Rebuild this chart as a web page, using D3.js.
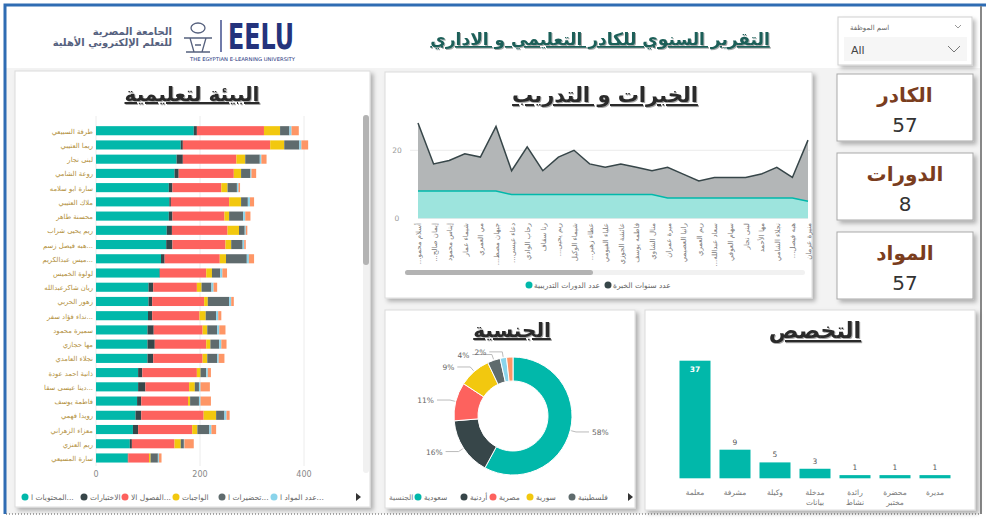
<!DOCTYPE html>
<html>
<head>
<meta charset="utf-8">
<script src="https://cdn.jsdelivr.net/npm/d3@7"></script>
<style>
  body { margin: 0; background: #ffffff; }
  svg { display: block; font-family: "DejaVu Sans", "Noto Sans", sans-serif; }
</style>
</head>
<body>
<div id="dash"></div>
<script>
// ---------------- data ----------------
// left panel: stacked bars per staff member
var staffNames = ["طرفة السبيعي", "ريما العتيبي", "لبنى نجار", "روعة الشامي", "سارة ابو سلامه", "ملاك العتيبي",
  "محسنة طاهر", "ريم يحيى شراب", "هبه فيصل زسم...", "ميس عبدالكريم...", "لولوة الخميس", "ريان شاكرعبدالله",
  "زهور الحربي", "نداء فؤاد سفر...", "سميرة محمود", "مها حجازي", "نجلاء العامدي", "ذانية احمد عودة",
  "دينا عيسى سقا...", "فاطمة يوسف", "رويدا فهمي", "معزاء الزهراني", "ريم العنزي", "سارة المسيعي"];
var contentVals  = [188, 163, 155, 151, 140, 141, 140, 136, 135, 125, 122, 101, 101, 100, 99, 99, 99, 81, 81, 79, 76, 71, 65, 61];
var examVals     = [6, 4, 12, 8, 7, 3, 7, 10, 12, 7, 1, 9, 7, 8, 12, 14, 11, 8, 14, 8, 11, 10, 4, 1];
var classVals    = [129, 168, 103, 106, 94, 112, 100, 107, 102, 106, 89, 84, 100, 91, 94, 99, 95, 105, 84, 90, 120, 104, 82, 40];
var homeworkVals = [31, 27, 17, 14, 12, 23, 9, 22, 11, 12, 11, 9, 7, 12, 9, 8, 9, 7, 11, 4, 24, 10, 12, 3];
var prepVals     = [18, 29, 28, 18, 18, 13, 27, 11, 22, 40, 16, 19, 41, 20, 19, 17, 19, 11, 8, 17, 16, 23, 6, 14];
var subjectVals  = [4, 4, 3, 2, 3, 4, 4, 2, 3, 4, 4, 4, 4, 4, 4, 4, 3, 3, 3, 3, 4, 4, 1, 2];
var otherVals    = [14, 13, 10, 9, 3, 8, 10, 3, 3, 10, 9, 7, 5, 6, 12, 10, 11, 6, 18, 20, 6, 9, 18, 5];
var seriesLabels = ["المحتويات ا...", "الاختبارات", "الفصول الا...", "الواجبات", "تحضيرات ا...", "عدد المواد ا..."];
var barTicks = [0, 200, 400];

// line panel: experience and training
var traineeNames = ["...أسلام محمو", "...إيمان صالح", "إيناس محمود", "شيماء عمار", "مي العمري", "...جيهان مصط",
  "...دعاء عيسى", "رحاب الوادي", "رنا سقاف", "...ريم يحيى", "شيماء الوكيل", "...عطاء زهير", "علياء الفيومي",
  "عائشة الجوزي", "فاطمه يوسف", "منال الشاوي", "ميرة عمران", "رانيا العصيمي", "ريم العمري", "...سعاد عبدالله",
  "سهام العوفي", "لبنى نجار", "مها الأحمد", "نجلاء الشامي", "...هبه فيصل", "منيرة عرمان"];
var yearsVals   = [28, 16, 17, 19, 18, 27, 14, 21, 14, 18, 20, 16, 15, 16, 15, 14, 15, 13, 11, 12, 12, 12, 13, 15, 12, 23];
var coursesVals = [8, 8, 8, 8, 8, 8, 7, 7, 7, 7, 7, 7, 7, 7, 7, 7, 6, 6, 6, 6, 6, 6, 6, 6, 6, 5];
var lineTicks = [0, 20];
var lineLegend = ["عدد الدورات التدريبية", "عدد سنوات الخبرة"];

// donut: nationality
var nationalities = ["سعودية", "أردنية", "مصرية", "سورية", "فلسطينية", "أخرى", "غير محدد"];
var nationalityCounts = [33, 9, 6, 5, 2, 1, 1];

// bars: specialty
var specialties = ["معلمة", "مشرفة", "وكيلة", "مدخلة بيانات", "رائدة نشاط", "محضرة مختبر", "مديرة"];
var specialtyCounts = [37, 9, 5, 3, 1, 1, 1];

// KPI cards
var kpiLabels = ["الكادر", "الدورات", "المواد"];
var kpiValues = [57, 8, 57];

var palette = ["#01B8AA", "#374649", "#FD625E", "#F2C80F", "#5F6B6D", "#8AD4EB", "#FE9666"];

// ---------------- svg ----------------
var svgWidth = 986;
var svgHeight = 519;

var svg = d3.select("#dash")
  .append("svg")
  .attr("width", svgWidth)
  .attr("height", svgHeight);

var defs = svg.append("defs");
defs.append("filter")
  .attr("id", "shadow")
  .attr("x", "-10%").attr("y", "-10%").attr("width", "130%").attr("height", "130%")
  .append("feDropShadow")
  .attr("dx", 3).attr("dy", 3).attr("stdDeviation", 2)
  .attr("flood-color", "#000").attr("flood-opacity", 0.28);
defs.append("filter")
  .attr("id", "tshadow")
  .append("feDropShadow")
  .attr("dx", 1).attr("dy", 1).attr("stdDeviation", 0.6)
  .attr("flood-color", "#000").attr("flood-opacity", 0.35);

// page background + frame
svg.append("rect").attr("width", svgWidth).attr("height", svgHeight).attr("fill", "#ffffff");
svg.append("rect").attr("x", 6).attr("y", 68).attr("width", 975).attr("height", 446).attr("fill", "#f3f3f3");
svg.append("path").attr("d", "M5,514 V5 H986").attr("fill", "none").attr("stroke", "#2f6cb3").attr("stroke-width", 3);
svg.append("line").attr("x1", 6).attr("x2", 981).attr("y1", 514).attr("y2", 514)
  .attr("stroke", "#555").attr("stroke-dasharray", "1,2");
svg.append("line").attr("x1", 981).attr("x2", 981).attr("y1", 6).attr("y2", 514)
  .attr("stroke", "#888").attr("stroke-width", 2);

function panel(x, y, w, h, stroke) {
  svg.append("rect")
    .attr("x", x).attr("y", y).attr("width", w).attr("height", h)
    .attr("fill", "#fff")
    .attr("stroke", stroke || "#dcdcdc")
    .attr("filter", "url(#shadow)");
}

function title(x, y, txt, size, color) {
  svg.append("text")
    .attr("x", x).attr("y", y)
    .attr("text-anchor", "middle")
    .style("font-size", size + "px")
    .style("font-weight", "bold")
    .style("text-decoration", "underline")
    .attr("fill", color || "#2b2b2b")
    .attr("filter", "url(#tshadow)")
    .text(txt);
}

// ---------------- header ----------------
var logo = svg.append("g");
logo.append("text").attr("x", 172).attr("y", 35).attr("text-anchor", "end")
  .style("font-size", "10px").style("font-weight", "bold").attr("fill", "#56617e").text("الجامعة المصرية");
logo.append("text").attr("x", 172).attr("y", 46).attr("text-anchor", "end")
  .style("font-size", "10px").style("font-weight", "bold").attr("fill", "#56617e").text("للتعلم الإلكتروني الأهلية");
// small tower icon
logo.append("ellipse").attr("cx", 198).attr("cy", 28).attr("rx", 7).attr("ry", 5)
  .attr("fill", "none").attr("stroke", "#56617e").attr("stroke-width", 1.3);
logo.append("path").attr("d", "M184,38 H212 M190,38 L194,52 M206,38 L202,52 M195,45 H201 M186,52 H210")
  .attr("fill", "none").attr("stroke", "#56617e").attr("stroke-width", 1.3);
logo.append("line").attr("x1", 221).attr("x2", 221).attr("y1", 20).attr("y2", 52)
  .attr("stroke", "#24337c").attr("stroke-width", 1.3);
logo.append("text").attr("x", 228).attr("y", 49)
  .attr("textLength", 66).attr("lengthAdjust", "spacingAndGlyphs")
  .style("font-family", "'Liberation Sans Narrow', 'DejaVu Sans Condensed', sans-serif")
  .style("font-size", "36px").style("font-weight", "bold").attr("fill", "#24337c").text("EELU");
logo.append("text").attr("x", 190).attr("y", 61)
  .attr("textLength", 105).attr("lengthAdjust", "spacingAndGlyphs")
  .style("font-size", "5px").attr("fill", "#24337c").text("THE EGYPTIAN E-LEARNING UNIVERSITY");

title(600, 45, "التقرير السنوي للكادر التعليمي و الاداري", 17, "#1c5f59");

// filter slicer
panel(838, 17, 134, 48, "#cfcfcf");
svg.append("text").attr("x", 850).attr("y", 30).style("font-size", "7px").attr("fill", "#666").text("اسم الموظفة");
svg.append("path").attr("d", "M955,25 l3,3 l3,-3").attr("fill", "none").attr("stroke", "#999");
svg.append("rect").attr("x", 844).attr("y", 37).attr("width", 123).attr("height", 24).attr("fill", "#f6f6f6");
svg.append("text").attr("x", 851).attr("y", 54).style("font-size", "11px").attr("fill", "#444").text("All");
svg.append("path").attr("d", "M948,46 l6,6 l6,-6").attr("fill", "none").attr("stroke", "#777");

// ---------------- left panel: stacked bars ----------------
panel(15, 71, 355, 436);
title(192, 101, "البيئة لتعليمية", 20);

var stackKeys = ["s0", "s1", "s2", "s3", "s4", "s5", "s6"];
var seriesArrays = [contentVals, examVals, classVals, homeworkVals, prepVals, subjectVals, otherVals];
var rows = staffNames.map(function(n, i) {
  var r = { name: n };
  stackKeys.forEach(function(k, j) { r[k] = seriesArrays[j][i]; });
  return r;
});
var stacked = d3.stack().keys(stackKeys)(rows);

var xBar = d3.scaleLinear().domain([0, 400]).range([96, 304]);
var yBar = d3.scaleBand().domain(staffNames).range([123.6, 465.1])
  .paddingInner(0.36).paddingOuter(0.18);

// gridlines + ticks
svg.append("g").selectAll("line").data(barTicks).enter().append("line")
  .attr("x1", d => xBar(d)).attr("x2", d => xBar(d))
  .attr("y1", 116).attr("y2", 466)
  .attr("stroke", "#ececec");
svg.append("g").selectAll("text").data(barTicks).enter().append("text")
  .attr("x", d => xBar(d)).attr("y", 477)
  .attr("text-anchor", "middle")
  .style("font-size", "8px").attr("fill", "#888")
  .text(d => d);

svg.append("g").selectAll("g").data(stacked).enter().append("g")
  .attr("fill", (d, i) => palette[i])
  .selectAll("rect").data(d => d).enter().append("rect")
  .attr("x", d => xBar(d[0]))
  .attr("width", d => xBar(d[1]) - xBar(d[0]))
  .attr("y", d => yBar(d.data.name))
  .attr("height", yBar.bandwidth());

svg.append("g").selectAll("text").data(staffNames).enter().append("text")
  .attr("x", 93)
  .attr("y", d => yBar(d) + yBar.bandwidth() / 2 + 3)
  .attr("text-anchor", "end")
  .style("font-size", "6.8px")
  .attr("fill", "#b28f3c")
  .text(d => d);

// vertical scrollbar
svg.append("rect").attr("x", 363).attr("y", 115).attr("width", 6).attr("height", 358).attr("rx", 3).attr("fill", "#f1f1f1");
svg.append("rect").attr("x", 363).attr("y", 115).attr("width", 6).attr("height", 150).attr("rx", 3).attr("fill", "#b3b3b3");

// legend
var legX = [25, 84, 125, 176, 222, 274];
var leg = svg.append("g").selectAll("g").data(seriesLabels).enter().append("g")
  .attr("transform", (d, i) => `translate(${legX[i]}, 497)`);
leg.append("circle").attr("r", 3.5).attr("fill", (d, i) => palette[i]);
leg.append("text").attr("x", 6).attr("y", 3).style("font-size", "7.5px").attr("fill", "#666").text(d => d);
svg.append("path").attr("d", "M356,493 l5,4 l-5,4 z").attr("fill", "#333");

// ---------------- line panel ----------------
panel(385, 72, 427, 226);
title(605, 102, "الخبرات و التدريب", 21);

var xLine = d3.scalePoint().domain(traineeNames).range([418, 808]);
var yLine = d3.scaleLinear().domain([0, 20]).range([218.3, 150.3]);

svg.append("line").attr("x1", 410).attr("x2", 810).attr("y1", yLine(20)).attr("y2", yLine(20)).attr("stroke", "#ececec");
svg.append("g").selectAll("text").data(lineTicks).enter().append("text")
  .attr("x", 397).attr("y", d => yLine(d) + 3)
  .attr("text-anchor", "middle")
  .style("font-size", "7.5px").attr("fill", "#999")
  .text(d => d);

var yearsArea = d3.area()
  .x((d, i) => xLine(traineeNames[i]))
  .y0(yLine(0))
  .y1(d => yLine(d));
var yearsLine = d3.line()
  .x((d, i) => xLine(traineeNames[i]))
  .y(d => yLine(d));

svg.append("path").datum(yearsVals).attr("d", yearsArea).attr("fill", "#b3b6b7");
svg.append("path").datum(coursesVals).attr("d", yearsArea).attr("fill", "#9de4dd");
svg.append("path").datum(yearsVals).attr("d", yearsLine).attr("fill", "none").attr("stroke", "#374649").attr("stroke-width", 1.5);
svg.append("path").datum(coursesVals).attr("d", yearsLine).attr("fill", "none").attr("stroke", "#01B8AA").attr("stroke-width", 1.5);

svg.append("g").selectAll("text").data(traineeNames).enter().append("text")
  .attr("transform", d => `translate(${xLine(d) + 3}, 223) rotate(-90)`)
  .attr("text-anchor", "end")
  .style("font-size", "7px").attr("fill", "#777")
  .text(d => d);

// horizontal scrollbar
svg.append("rect").attr("x", 405).attr("y", 270).attr("width", 400).attr("height", 5).attr("rx", 2.5).attr("fill", "#f1f1f1");
svg.append("rect").attr("x", 405).attr("y", 270).attr("width", 188).attr("height", 5).attr("rx", 2.5).attr("fill", "#b3b3b3");

var lineLegX = [529, 608];
var lineLeg = svg.append("g").selectAll("g").data(lineLegend).enter().append("g")
  .attr("transform", (d, i) => `translate(${lineLegX[i]}, 285)`);
lineLeg.append("circle").attr("r", 3.5).attr("fill", (d, i) => i === 0 ? "#01B8AA" : "#374649");
lineLeg.append("text").attr("x", 5).attr("y", 3).style("font-size", "7.5px").attr("fill", "#666").text(d => d);

// ---------------- donut panel ----------------
panel(385, 310, 250, 198);
title(512, 337, "الجنسية", 20);

var total = d3.sum(nationalityCounts);
var pie = d3.pie().sort(null).value(d => d);
var arcs = pie(nationalityCounts);
var outerR = 59, innerR = 35;
var arc = d3.arc().innerRadius(innerR).outerRadius(outerR);
var donut = svg.append("g").attr("transform", "translate(513, 416)");

donut.selectAll("path").data(arcs).enter().append("path")
  .attr("d", arc)
  .attr("fill", (d, i) => palette[i])
  .attr("stroke", "#fff").attr("stroke-width", 1);

// labels with leader lines; left-side labels pushed apart so they never touch
var labelW = 13;
var labelled = arcs.filter((d, i) => i < arcs.length - 1).map(function(d) {
  var mid = (d.startAngle + d.endAngle) / 2;
  var sx = Math.sin(mid), sy = -Math.cos(mid);
  var side = sx >= 0 ? 1 : -1;
  var p1 = [sx * (outerR + 1), sy * (outerR + 1)];
  var p2 = [sx * (outerR + 6), sy * (outerR + 6)];
  var p3 = [p2[0] + side * 13, p2[1]];
  return { d: d, mid: mid, side: side, p1: p1, p2: p2, p3: p3 };
});
var leftSide = labelled.filter(l => l.side < 0).sort((a, b) => b.mid - a.mid);
for (var k = 1; k < leftSide.length; k++) {
  var prev = leftSide[k - 1], cur = leftSide[k];
  var prevLeft = prev.p3[0] - 3 - labelW;
  if (Math.abs(prev.p3[1] - cur.p3[1]) < 10 && cur.p3[0] - 3 > prevLeft - 4) {
    cur.p3[0] = prevLeft - 1;
  }
}
labelled.forEach(function(l) {
  donut.append("polyline")
    .attr("points", [l.p1, l.p2, l.p3].map(p => p.join(",")).join(" "))
    .attr("fill", "none").attr("stroke", "#aaa").attr("stroke-width", 0.8);
  donut.append("text")
    .attr("x", l.p3[0] + l.side * 3).attr("y", l.p3[1] + 3)
    .attr("text-anchor", l.side > 0 ? "start" : "end")
    .style("font-size", "7.5px").attr("fill", "#666")
    .text(Math.round(l.d.value / total * 100) + "%");
});

var donutLegX = [418, 464, 493, 530, 572];
svg.append("text").attr("x", 389).attr("y", 500).style("font-size", "7.5px").attr("fill", "#777").text("الجنسية");
var dLeg = svg.append("g").selectAll("g").data(nationalities.slice(0, 5)).enter().append("g")
  .attr("transform", (d, i) => `translate(${donutLegX[i]}, 497)`);
dLeg.append("circle").attr("r", 3.5).attr("fill", (d, i) => palette[i]);
dLeg.append("text").attr("x", 6).attr("y", 3).style("font-size", "7.5px").attr("fill", "#666").text(d => d);
svg.append("path").attr("d", "M628,493 l5,4 l-5,4 z").attr("fill", "#333");

// ---------------- specialty bars ----------------
panel(645, 310, 330, 200);
title(815, 338, "التخصص", 22);

var xSpec = d3.scaleBand().domain(specialties).range([675, 955]).paddingInner(0.225).paddingOuter(0.1125);
var ySpec = d3.scaleLinear().domain([0, 37]).range([478.3, 360.7]);

svg.append("g").selectAll("rect").data(specialties).enter().append("rect")
  .attr("x", d => xSpec(d))
  .attr("width", xSpec.bandwidth())
  .attr("y", (d, i) => ySpec(specialtyCounts[i]))
  .attr("height", (d, i) => ySpec(0) - ySpec(specialtyCounts[i]))
  .attr("fill", "#01B8AA");

svg.append("g").selectAll("text").data(specialtyCounts).enter().append("text")
  .attr("x", (d, i) => xSpec(specialties[i]) + xSpec.bandwidth() / 2)
  .attr("y", d => d > 20 ? ySpec(d) + 11 : ySpec(d) - 5)
  .attr("text-anchor", "middle")
  .style("font-size", "7.5px")
  .style("font-weight", d => d > 20 ? "bold" : "normal")
  .attr("fill", d => d > 20 ? "#fff" : "#555")
  .text(d => d);

var catLabels = svg.append("g").selectAll("text").data(specialties).enter().append("text")
  .attr("x", d => xSpec(d) + xSpec.bandwidth() / 2)
  .attr("y", 495)
  .attr("text-anchor", "middle")
  .style("font-size", "7.5px").attr("fill", "#777");
catLabels.selectAll("tspan").data(d => d.split(" ")).enter().append("tspan")
  .attr("x", function() { return d3.select(this.parentNode).attr("x"); })
  .attr("dy", (d, i) => i === 0 ? 0 : 10)
  .text(d => d);

// ---------------- KPI cards ----------------
var cardY = [74, 153, 232];
kpiLabels.forEach(function(lbl, i) {
  panel(837, cardY[i], 136, 67, "#a9a9a9");
  svg.append("text").attr("x", 905).attr("y", cardY[i] + 28)
    .attr("text-anchor", "middle")
    .style("font-size", "20px").style("font-weight", "bold")
    .attr("fill", "#7a3d1e").text(lbl);
  svg.append("text").attr("x", 905).attr("y", cardY[i] + 58)
    .attr("text-anchor", "middle")
    .style("font-size", "20px")
    .attr("fill", "#333").text(kpiValues[i]);
});
</script>
</body>
</html>
